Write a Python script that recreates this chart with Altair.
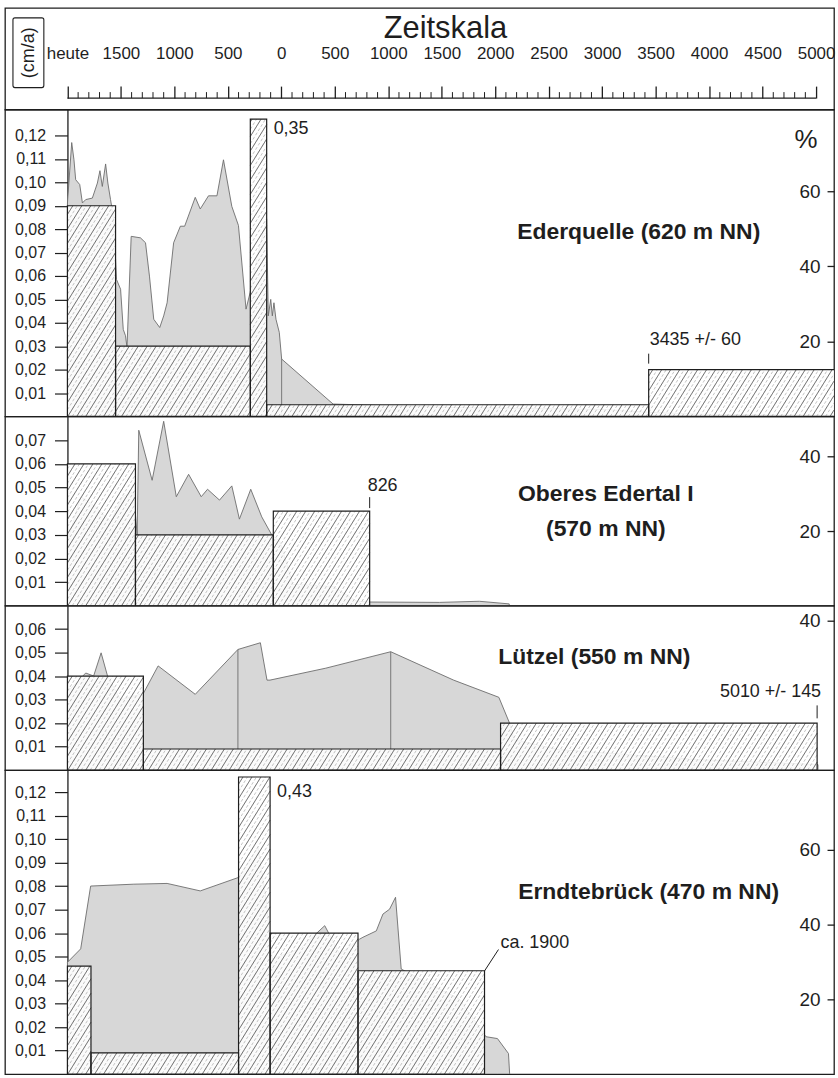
import math
import altair as alt
import pandas as pd

# ---------------------------------------------------------------------------
# Time axis: calendar years, AD positive, BC negative ("heute" = 2000)
# ---------------------------------------------------------------------------
YEAR_LEFT = 2584      # left frame edge (left of the value column)
YEAR_RIGHT = -5168    # right frame edge
PLOT_W = 832
MAJOR_TICKS = list(range(2000, -5001, -500))
MINOR_TICKS = [y for y in range(2000, -5001, -100) if y % 500]

# ---------------------------------------------------------------------------
# Ederquelle (620 m NN)
# ---------------------------------------------------------------------------
EDER_FROM = [2000, 1550, 290, 137, -3435]
EDER_TO = [1550, 290, 137, -3435, -5200]
EDER_RATE = [0.09, 0.03, 0.35, 0.005, 0.02]
EDER_YEAR = [2000, 1960, 1939, 1923, 1885, 1860, 1829, 1767, 1720, 1696, 1674,
             1643, 1622, 1597, 1569, 1541, 1503, 1478, 1457, 1443, 1404, 1317,
             1270, 1233, 1193, 1137, 1100, 1068, 1007, 944, 904, 805, 758, 681,
             602, 541, 463, 401, 330, 292, 218, 137, 122, 99, 84, 69, 50, 19,
             -3, -484, -1571, -2969, -3435, -3901, -5160]
EDER_PCT = [56.9, 73.0, 68.4, 63.1, 61.8, 56.9, 57.8, 58.2, 62.2, 65.5, 61.3,
            67.3, 62.2, 57.8, 52.9, 36.5, 33.9, 23.2, 21.5, 18.4, 48.0, 47.6,
            46.3, 37.4, 25.9, 23.7, 26.8, 30.3, 46.3, 50.7, 50.7, 58.4, 55.3, 58.8,
            58.8, 68.4, 56.0, 50.9, 28.6, 33.0, 43.6, 52.5, 26.8, 31.2, 26.8, 30.3,
            25.9, 22.4, 15.3, 3.3, 2.4, 1.9, 1.1, 0.6, 0.3]
EDER_CUTS = [-3]

# ---------------------------------------------------------------------------
# Oberes Edertal I (570 m NN)
# ---------------------------------------------------------------------------
OET_FROM = [2000, 1364, 75]
OET_TO = [1364, 75, -826]
OET_RATE = [0.06, 0.03, 0.04]
OET_YEAR = [2000, 1876, 1736, 1596, 1485, 1382, 1348, 1333, 1208, 1100, 982,
            867, 749, 690, 578, 463, 392, 286, 183, 90, 13, -108, -481, -705,
            -826, -1478, -1851, -2131]
OET_PCT = [17.2, 29.2, 26.5, 22.5, 29.2, 30.5, 19.0, 47.0, 33.6, 49.4, 29.2,
           35.2, 29.2, 31.2, 28.3, 32.1, 23.2, 31.2, 23.8, 19.0, 17.2, 5.7, 5.2,
           1.2, 1.0, 0.9, 1.2, 0.5]
OET_CUTS = []

# ---------------------------------------------------------------------------
# Lützel (550 m NN)
# ---------------------------------------------------------------------------
LUE_FROM = [2000, 1290, -2050]
LUE_TO = [1290, -2050, -5010]
LUE_RATE = [0.04, 0.009, 0.02]
LUE_YEAR = [2000, 1829, 1755, 1685, 1625, 1503, 1289, 1152, 805, 406, 196, 134,
            106, -416, -1023, -1611, -2034, -2134, -2177, -2596, -3900, -5018]
LUE_PCT = [21.0, 26.0, 25.2, 31.4, 25.2, 18.8, 20.6, 27.9, 20.3, 32.3, 34.1,
           24.1, 24.1, 27.3, 31.7, 24.1, 19.5, 12.6, 8.1, 5.5, 2.8, 1.5]
LUE_CUTS = [406, -1023]

# ---------------------------------------------------------------------------
# Erndtebrück (470 m NN)
# ---------------------------------------------------------------------------
ERN_FROM = [2000, 1780, 400, 105, -717]
ERN_TO = [1780, 400, 105, -717, -1900]
ERN_RATE = [0.046, 0.009, 0.43, 0.06, 0.044]
ERN_YEAR = [2000, 1876, 1783, 1379, 1068, 758, 401, 292, 218, 143, 87, -173,
            -406, -546, -732, -763, -888, -950, -1012, -1068, -1121, -1385,
            -1664, -1913, -2021, -2124, -2135]
ERN_PCT = [29.9, 33.5, 50.3, 50.8, 51.0, 49.0, 52.6, 57.5, 60.7, 46.8, 30.8,
           33.5, 39.7, 32.1, 36.1, 36.6, 38.3, 42.8, 44.1, 47.3, 28.1, 24.1,
           20.1, 10.0, 9.5, 5.5, 0.0]
ERN_CUTS = []

# ---------------------------------------------------------------------------
# Styling
# ---------------------------------------------------------------------------
FONT = "Liberation Sans"
INK = "#1e1e1e"
AREA_FILL = "#d7d7d7"
AREA_LINE = "#6c6c6c"
PX_PER_YEAR = PLOT_W / (YEAR_LEFT - YEAR_RIGHT)
AXIS_X = (YEAR_LEFT - 2000) * PX_PER_YEAR   # position of the value-axis line


def xscale():
    return alt.Scale(domain=[YEAR_RIGHT, YEAR_LEFT], reverse=True, nice=False, zero=False)


def comma_label():
    return "replace(format(datum.value, '.2f'), '.', ',')"


def hatch_segments(frm, to, tops, h, rmax, spacing, phase, slope=0.62):
    """Diagonal hatch lines clipped to each bar rectangle, in data units."""
    rows = []
    for a, b, top in zip(frm, to, tops):
        u0 = (YEAR_LEFT - a) * PX_PER_YEAR
        u1 = min((YEAR_LEFT - b) * PX_PER_YEAR, PLOT_W)
        vt = top * h / rmax
        n0 = math.floor((u0 - slope * vt - phase) / spacing)
        n1 = math.ceil((u1 - phase) / spacing)
        for n in range(n0, n1 + 1):
            c = phase + n * spacing
            va = max(0.0, (u0 - c) / slope)
            vb = min(vt, (u1 - c) / slope)
            if vb - va > 0.4:
                ua, ub = c + slope * va, c + slope * vb
                rows.append({
                    "x": YEAR_LEFT - ua / PX_PER_YEAR,
                    "x2": YEAR_LEFT - ub / PX_PER_YEAR,
                    "y": va * rmax / h,
                    "y2": vb * rmax / h,
                })
    return pd.DataFrame(rows)


def text_layer(text, y, x_year=None, x_px=None, align="left", dx=0, size=18, bold=False):
    df = pd.DataFrame({"t": [text], "year": [x_year if x_year is not None else 0]})
    if x_year is not None:
        xenc = alt.X("year:Q", scale=xscale(), axis=None)
    else:
        xenc = alt.value(x_px)
    return alt.Chart(df).mark_text(
        align=align, baseline="middle", dx=dx, fontSize=size, font=FONT,
        fontWeight="bold" if bold else "normal", color=INK,
    ).encode(x=xenc, y=alt.value(y), text="t:N")


def leader(year, y_from, y_to, x2_offset=0):
    df = pd.DataFrame({"year": [year]})
    return alt.Chart(df).mark_rule(color=INK, strokeWidth=1.0, x2Offset=x2_offset).encode(
        x=alt.X("year:Q", scale=xscale(), axis=None),
        x2="year:Q",
        y=alt.value(y_from), y2=alt.value(y_to),
    )


def panel(frm, to, rate, years, pct, cuts, h, rate_max, pct_max, rate_ticks,
          pct_ticks, ceiling, extras):
    rscale = alt.Scale(domain=[0, rate_max], nice=False, zero=True)
    pscale = alt.Scale(domain=[0, pct_max], nice=False, zero=True)
    tops = [min(r, ceiling) for r in rate]
    bars = pd.DataFrame({"from": frm, "to": to, "rate": rate, "top": tops, "base": 0.0})
    area_df = pd.DataFrame({"year": years, "pct": pct})
    cut_df = pd.DataFrame({"year": cuts, "pct": [pct[years.index(c)] for c in cuts],
                           "base": 0.0}) if cuts else None

    area = alt.Chart(area_df).mark_area(
        orient="vertical", fill=AREA_FILL, stroke=AREA_LINE, strokeWidth=0.9, clip=True
    ).encode(
        x=alt.X("year:Q", scale=xscale(), axis=None),
        y=alt.Y("pct:Q", scale=pscale, stack=None, axis=alt.Axis(
            orient="left", offset=-PLOT_W, values=pct_ticks, tickSize=7,
            labelPadding=7, labelFontSize=19, domain=False, grid=False, title=None,
            labelOverlap=False, labelFlush=False, tickWidth=1.3)),
    )
    layers = [area]
    if cut_df is not None:
        layers.append(alt.Chart(cut_df).mark_rule(color=AREA_LINE, strokeWidth=0.9).encode(
            x=alt.X("year:Q", scale=xscale(), axis=None),
            y=alt.Y("pct:Q", scale=pscale, axis=None), y2="base:Q"))

    fill = alt.Chart(bars).mark_rect(fill="white", fillOpacity=0.9, strokeWidth=0, clip=True).encode(
        x=alt.X("from:Q", scale=xscale(), axis=None), x2="to:Q",
        y=alt.Y("top:Q", scale=rscale, axis=alt.Axis(
            orient="left", offset=-AXIS_X, values=rate_ticks, tickSize=13,
            labelPadding=9, labelFontSize=16, labelExpr=comma_label(), domain=True,
            domainWidth=1.3, grid=False, title=None, labelOverlap=False,
            labelFlush=False, tickWidth=1.2)),
        y2="base:Q",
    )
    layers.append(fill)

    solid = hatch_segments(frm, to, tops, h, rate_max, 9.0, 0.0)
    light = hatch_segments(frm, to, tops, h, rate_max, 9.0, 4.5)
    for df, color, width, dash in [(light, "#ababab", 0.7, [3, 2]), (solid, "#404040", 0.85, [1, 0])]:
        layers.append(alt.Chart(df).mark_rule(color=color, strokeWidth=width, strokeDash=dash, clip=True).encode(
            x=alt.X("x:Q", scale=xscale(), axis=None), x2="x2:Q",
            y=alt.Y("y:Q", scale=rscale, axis=None), y2="y2:Q"))

    outline = alt.Chart(bars).mark_rect(fillOpacity=0, stroke=INK, strokeWidth=1.2, clip=True).encode(
        x=alt.X("from:Q", scale=xscale(), axis=None), x2="to:Q",
        y=alt.Y("top:Q", scale=rscale, axis=None), y2="base:Q")
    layers.append(outline)
    layers.extend(extras)

    return alt.layer(*layers).resolve_scale(y="independent").properties(width=PLOT_W, height=h)


def fmt_rate(v):
    return f"{v:.2f}".replace(".", ",")


# --------------------------------------------------------------------------- header
ruler = alt.Chart(pd.DataFrame({"start": [2000], "end": [-5000]})).mark_rule(
    color=INK, strokeWidth=1.2
).encode(
    x=alt.X("start:Q", scale=xscale(), axis=alt.Axis(
        orient="top", offset=-90.5, values=MAJOR_TICKS, tickSize=12, tickWidth=1.3,
        labelPadding=27.5, labelBaseline="alphabetic", labelFontSize=17,
        labelExpr="datum.value == 2000 ? 'heute' : format(abs(datum.value), 'd')",
        domain=False, grid=False, title=None, labelOverlap=False, labelFlush=False)),
    x2="end:Q",
    y=alt.value(90.5),
)
minor = alt.Chart(pd.DataFrame({"year": MINOR_TICKS})).mark_rule(color=INK, strokeWidth=1).encode(
    x=alt.X("year:Q", scale=xscale(), axis=None), y=alt.value(84.5), y2=alt.value(90.5))
unit_box = alt.Chart(pd.DataFrame({"k": [0]})).mark_rect(
    fillOpacity=0, stroke=INK, strokeWidth=1.1, cornerRadius=2
).encode(x=alt.value(8), x2=alt.value(39), y=alt.value(10), y2=alt.value(80))
unit_text = alt.Chart(pd.DataFrame({"t": ["(cm/a)"]})).mark_text(
    angle=270, fontSize=18, font=FONT, color=INK, align="center", baseline="middle"
).encode(x=alt.value(24), y=alt.value(45), text="t:N")
title = alt.Chart(pd.DataFrame({"t": ["Zeitskala"]})).mark_text(
    fontSize=31, font=FONT, color=INK, align="center", baseline="alphabetic"
).encode(x=alt.value(442), y=alt.value(30), text="t:N")
header = (
    alt.layer(ruler, minor, unit_box, unit_text, title)
    .resolve_axis(x="independent")
    .properties(width=PLOT_W, height=102)
)

# --------------------------------------------------------------------------- panels
p1 = panel(
    EDER_FROM, EDER_TO, EDER_RATE, EDER_YEAR, EDER_PCT, EDER_CUTS,
    h=308, rate_max=0.1311, pct_max=81.8,
    rate_ticks=[round(0.01 * i, 2) for i in range(1, 13)], pct_ticks=[20, 40, 60],
    ceiling=0.127,
    extras=[
        text_layer("Ederquelle (620 m NN)", 123, x_px=514, size=23, bold=True),
        text_layer("%", 31, x_px=804, align="center", size=26),
        text_layer(fmt_rate(EDER_RATE[2]), 20, x_year=EDER_TO[2], dx=7),
        text_layer("3435 +/- 60", 231, x_year=EDER_FROM[4], dx=1),
        leader(EDER_FROM[4], 245, 255),
    ],
)
p2 = panel(
    OET_FROM, OET_TO, OET_RATE, OET_YEAR, OET_PCT, OET_CUTS,
    h=190, rate_max=0.0801, pct_max=50.7,
    rate_ticks=[round(0.01 * i, 2) for i in range(1, 8)], pct_ticks=[20, 40],
    ceiling=1.0,
    extras=[
        text_layer("Oberes Edertal I", 78, x_px=603, align="center", size=23, bold=True),
        text_layer("(570 m NN)", 113, x_px=603, align="center", size=23, bold=True),
        text_layer("826", 70, x_year=OET_TO[2], dx=-2),
        leader(OET_TO[2], 81, 92),
    ],
)
p3 = panel(
    LUE_FROM, LUE_TO, LUE_RATE, LUE_YEAR, LUE_PCT, LUE_CUTS,
    h=165, rate_max=0.0699, pct_max=44.0,
    rate_ticks=[round(0.01 * i, 2) for i in range(1, 7)], pct_ticks=[40],
    ceiling=1.0,
    extras=[
        text_layer("Lützel (550 m NN)", 51, x_px=495, size=23, bold=True),
        text_layer("5010 +/- 145", 87, x_year=LUE_TO[2], align="right", dx=4),
        leader(LUE_TO[2], 100, 113),
    ],
)
p4 = panel(
    ERN_FROM, ERN_TO, ERN_RATE, ERN_YEAR, ERN_PCT, ERN_CUTS,
    h=305, rate_max=0.1294, pct_max=81.3,
    rate_ticks=[round(0.01 * i, 2) for i in range(1, 13)], pct_ticks=[20, 40, 60],
    ceiling=0.1265,
    extras=[
        text_layer("Erndtebrück (470 m NN)", 122, x_px=515, size=23, bold=True),
        text_layer(fmt_rate(ERN_RATE[2]), 22, x_year=ERN_TO[2], dx=7),
        text_layer("ca. 1900", 173, x_year=ERN_TO[4], dx=16),
        leader(ERN_TO[4], 201.5, 180, x2_offset=14),
    ],
)

chart = (
    alt.vconcat(header, p1, p2, p3, p4, spacing=0, bounds="flush")
    .properties(padding={"left": 4, "top": 5, "right": 2, "bottom": 0})
    .configure(font=FONT)
    .configure_view(stroke=INK, strokeWidth=1.3)
    .configure_axis(labelFont=FONT, labelColor=INK, tickColor=INK, domainColor=INK)
)

chart.save("out.html", embed_options={"renderer": "svg", "actions": False})
